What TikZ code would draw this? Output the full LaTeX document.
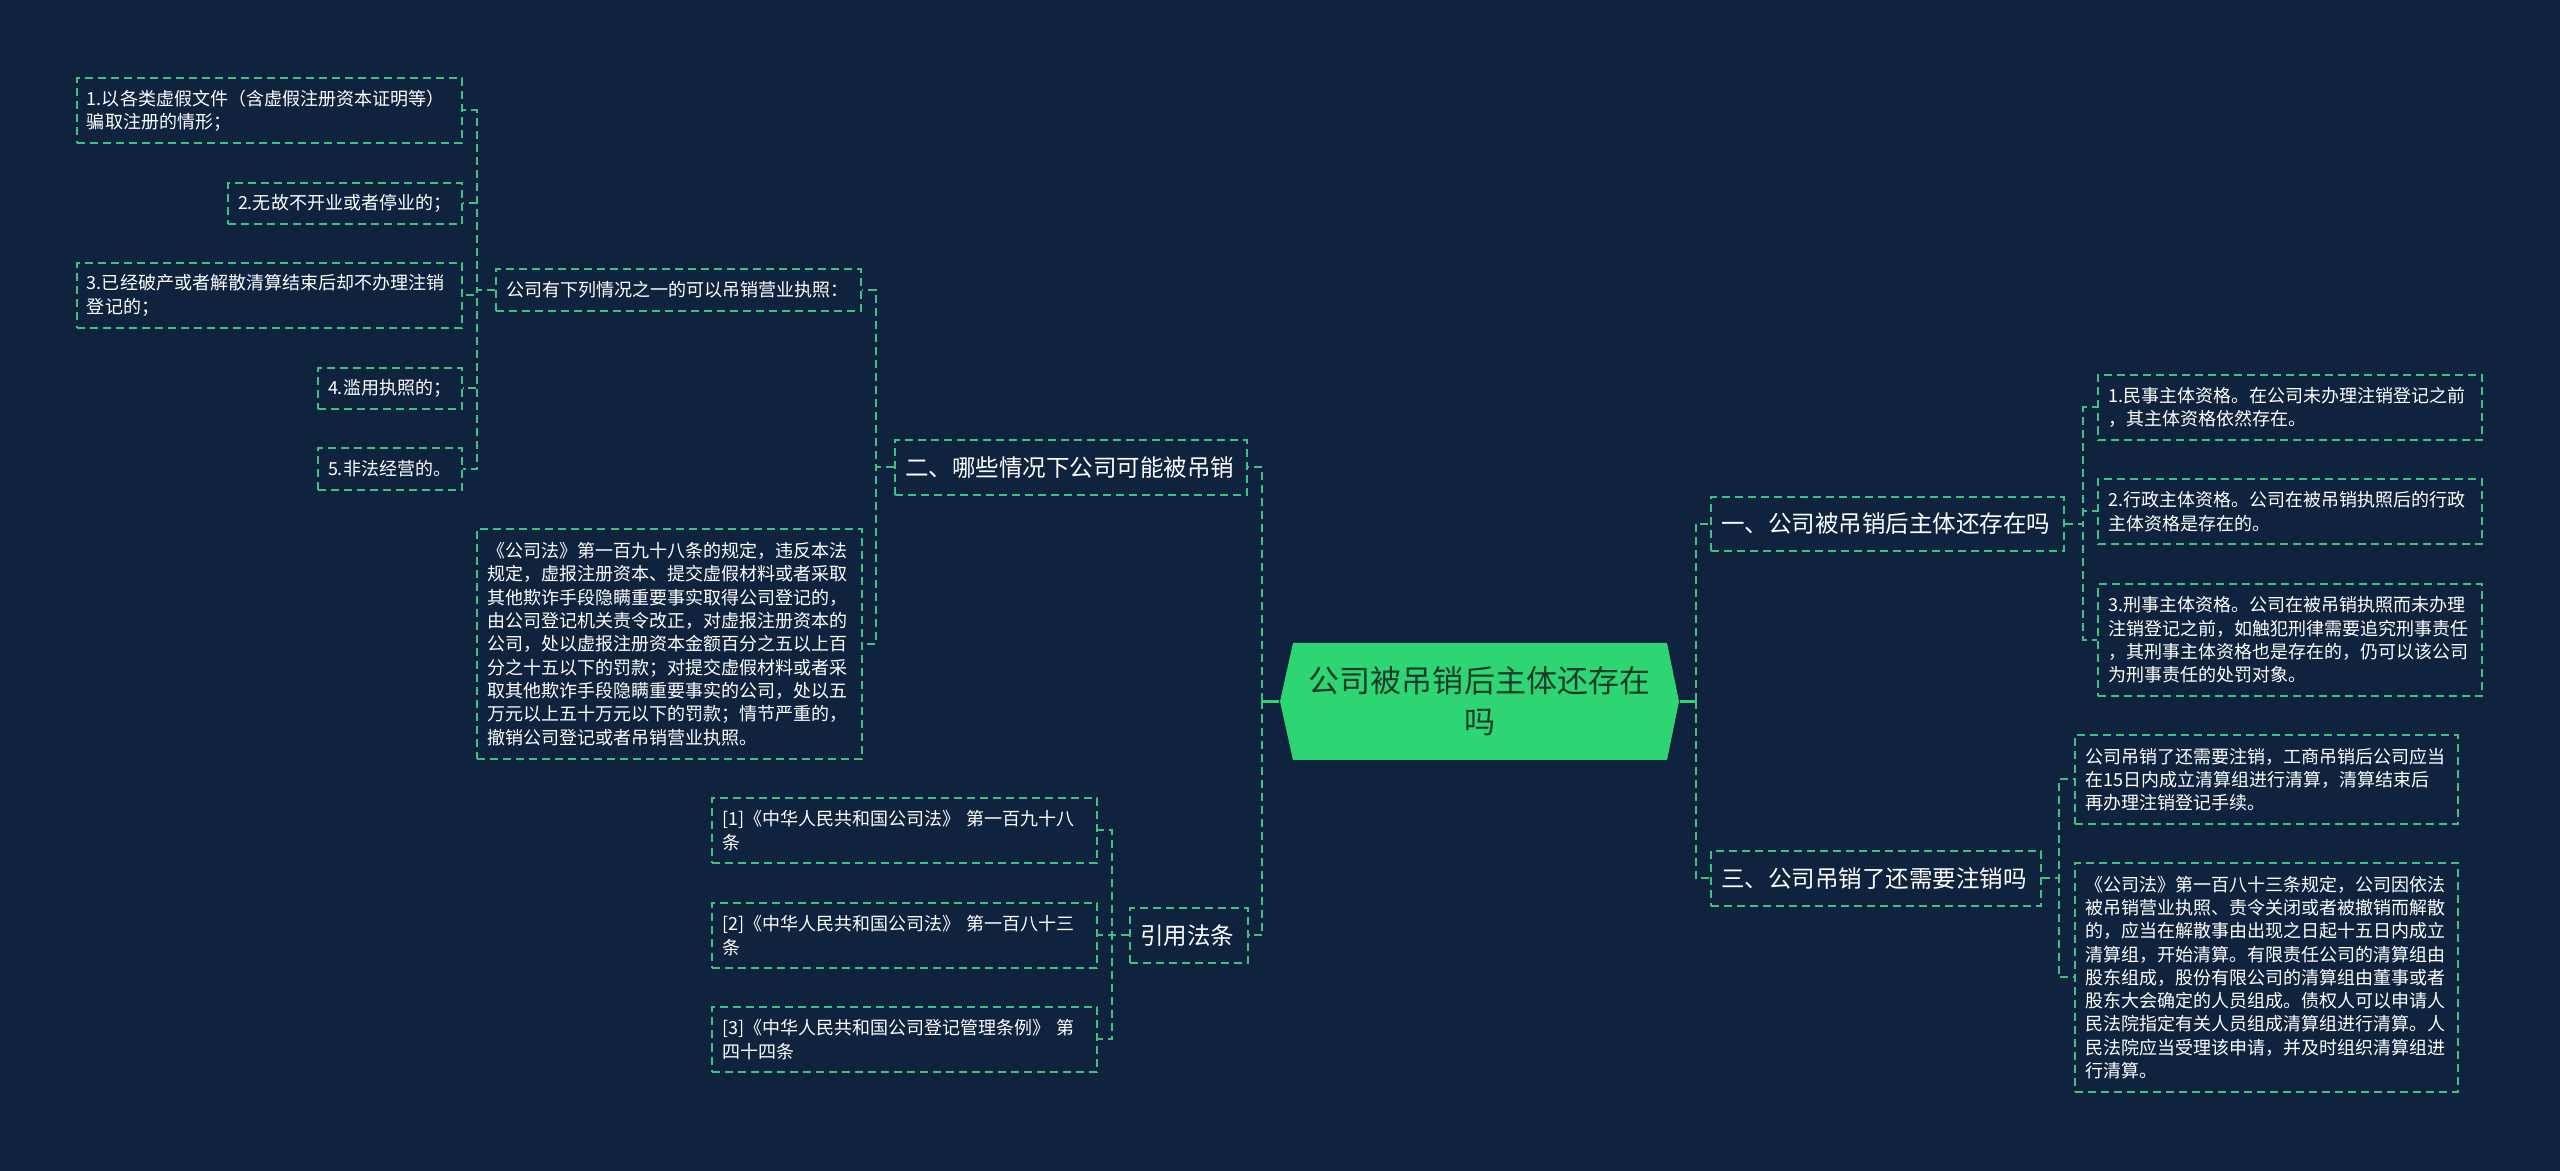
\documentclass[tikz,border=0pt]{standalone}
\usepackage{fontspec}
\newfontfamily\cjk{Noto Sans CJK SC}
\definecolor{bg}{HTML}{0F223E}
\definecolor{hexg}{HTML}{2ED573}
\definecolor{lineg}{HTML}{3CC47E}
\definecolor{hextext}{HTML}{1B3B2A}
\def\px{0.01cm}
\tikzset{
 leaf/.style={draw=lineg, line width=0.02cm, dash pattern=on 0.08cm off 0.05cm, text=white, align=left, inner xsep=0.1cm, inner ysep=0pt, font=\cjk\fontsize{5.12pt}{6.63pt}\selectfont},
 branch/.style={leaf, font=\cjk\fontsize{6.69pt}{8.5pt}\selectfont},
 conn/.style={draw=lineg, line width=0.02cm, dash pattern=on 0.08cm off 0.05cm},
 solidconn/.style={draw=hexg, line width=0.025cm},
}
\newcommand\bx[7]{%
 \pgfmathsetlengthmacro\bw{(#5-#3)*\px}%
 \pgfmathsetlengthmacro\bh{(#6-#4)*\px}%
 \pgfmathsetlengthmacro\tw{(#5-#3-20)*\px}%
 \node[#1, minimum width=\bw, minimum height=\bh, text width=\tw] (#2) at ({(#3+#5)/2},{(#4+#6)/2}) {#7};}
\begin{document}
\begin{tikzpicture}[x=0.01cm,y=-0.01cm]
\fill[bg] (0,0) rectangle (2560,1171);
\useasboundingbox (0,0) rectangle (2560,1171);
% centre
\fill[hexg] (1280,701.5) -- (1293,643) -- (1667,643) -- (1679,701.5) -- (1667,760) -- (1293,760) -- cycle;
\node[minimum width=3.99cm, minimum height=1.17cm, inner sep=0pt, text=hextext, align=center, font=\cjk\fontsize{8.82pt}{11.67pt}\selectfont] (ctr) at (1479.5,701.5) {公司被吊销后主体还存在\\吗};
% left side
\bx{leaf}{l1}{77}{78}{462}{143}{1.以各类虚假文件（含虚假注册资本证明等）\\骗取注册的情形；}
\bx{leaf}{l2}{228}{183}{462}{224}{2.无故不开业或者停业的；}
\bx{leaf}{l3}{77}{263}{462}{328}{3.已经破产或者解散清算结束后却不办理注销\\登记的；}
\bx{leaf}{l4}{318}{368}{462}{409}{4.滥用执照的；}
\bx{leaf}{l5}{318}{448}{462}{490}{5.非法经营的。}
\bx{leaf}{p1}{496}{269}{861}{311}{公司有下列情况之一的可以吊销营业执照：}
\bx{branch}{b2}{895}{440}{1247}{495}{二、哪些情况下公司可能被吊销}
\bx{leaf}{law}{477}{529}{862}{759}{《公司法》第一百九十八条的规定，违反本法\\规定，虚报注册资本、提交虚假材料或者采取\\其他欺诈手段隐瞒重要事实取得公司登记的，\\由公司登记机关责令改正，对虚报注册资本的\\公司，处以虚报注册资本金额百分之五以上百\\分之十五以下的罚款；对提交虚假材料或者采\\取其他欺诈手段隐瞒重要事实的公司，处以五\\万元以上五十万元以下的罚款；情节严重的，\\撤销公司登记或者吊销营业执照。}
\bx{leaf}{r1}{712}{798}{1097}{863}{[1]《中华人民共和国公司法》 第一百九十八\\条}
\bx{leaf}{r2}{712}{903}{1097}{968}{[2]《中华人民共和国公司法》 第一百八十三\\条}
\bx{leaf}{r3}{712}{1007}{1097}{1072}{[3]《中华人民共和国公司登记管理条例》 第\\四十四条}
\bx{branch}{b4}{1130}{908}{1248}{963}{引用法条}
% right side
\bx{branch}{b1}{1711}{497}{2064}{551}{一、公司被吊销后主体还存在吗}
\bx{leaf}{c1}{2098}{375}{2482}{440}{1.民事主体资格。在公司未办理注销登记之前\\，其主体资格依然存在。}
\bx{leaf}{c2}{2098}{479}{2482}{544}{2.行政主体资格。公司在被吊销执照后的行政\\主体资格是存在的。}
\bx{leaf}{c3}{2098}{584}{2482}{696}{3.刑事主体资格。公司在被吊销执照而未办理\\注销登记之前，如触犯刑律需要追究刑事责任\\，其刑事主体资格也是存在的，仍可以该公司\\为刑事责任的处罚对象。}
\bx{branch}{b3}{1711}{851}{2041}{906}{三、公司吊销了还需要注销吗}
\bx{leaf}{d1}{2075}{735}{2458}{824}{公司吊销了还需要注销，工商吊销后公司应当\\在15日内成立清算组进行清算，清算结束后\\再办理注销登记手续。}
\bx{leaf}{d2}{2075}{863}{2458}{1092}{《公司法》第一百八十三条规定，公司因依法\\被吊销营业执照、责令关闭或者被撤销而解散\\的，应当在解散事由出现之日起十五日内成立\\清算组，开始清算。有限责任公司的清算组由\\股东组成，股份有限公司的清算组由董事或者\\股东大会确定的人员组成。债权人可以申请人\\民法院指定有关人员组成清算组进行清算。人\\民法院应当受理该申请，并及时组织清算组进\\行清算。}
% connectors
\draw[solidconn] (ctr.west) -- ++(-17,0) coordinate (tl);
\draw[conn] (tl) |- (b2.east);
\draw[conn] (tl) |- (b4.east);
\draw[solidconn] (ctr.east) -- ++(16,0) coordinate (tr);
\draw[conn] (tr) |- (b1.west);
\draw[conn] (tr) |- (b3.west);
\foreach \c in {p1,law}{\draw[conn] (b2.west) -- ++(-18,0) |- (\c.east);}
\foreach \c in {l1,l2,l3,l4,l5}{\draw[conn] (p1.west) -- ++(-18,0) |- (\c.east);}
\foreach \c in {r1,r2,r3}{\draw[conn] (b4.west) -- ++(-17,0) |- (\c.east);}
\foreach \c in {c1,c2,c3}{\draw[conn] (b1.east) -- ++(18,0) |- (\c.west);}
\foreach \c in {d1,d2}{\draw[conn] (b3.east) -- ++(17,0) |- (\c.west);}
\end{tikzpicture}
\end{document}
